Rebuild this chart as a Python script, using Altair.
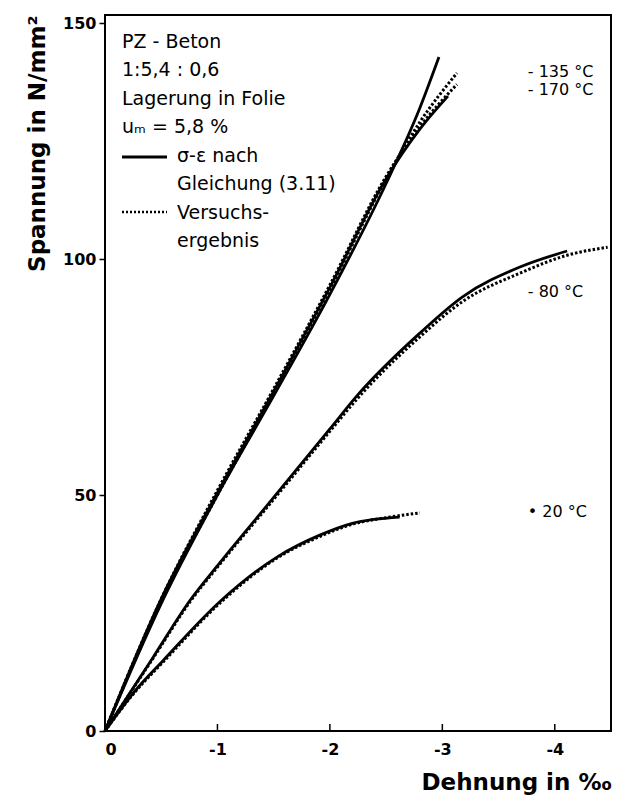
import altair as alt
import pandas as pd

# ---- data (strain in per mille, stress in N/mm^2) ----
s135_x = [0, -0.5, -1.0, -1.5, -2.0, -2.5, -2.8, -2.97]
s135_y = [0, 27.0, 50.0, 71.0, 92.5, 116.0, 132.0, 142.8]
d135_x = [0, -0.5, -1.0, -1.5, -2.0, -2.5, -2.8, -3.13]
d135_y = [0, 27.5, 50.0, 71.5, 93.5, 117.0, 129.0, 139.4]
s170_x = [0, -0.5, -1.0, -1.5, -2.0, -2.5, -2.8, -3.05]
s170_y = [0, 28.0, 50.5, 72.0, 94.0, 117.0, 127.5, 134.5]
d170_x = [0, -0.5, -1.0, -1.5, -2.0, -2.5, -2.8, -3.13]
d170_y = [0, 28.0, 51.0, 72.5, 94.5, 117.5, 128.0, 137.0]
s80_x = [0, -0.43, -0.76, -1.02, -1.48, -2.0, -2.24, -2.8, -3.18, -3.69, -4.11]
s80_y = [0, 15.7, 27.8, 35.6, 48.9, 64.0, 71.0, 84.3, 92.0, 98.3, 101.7]
d80_x = [0, -0.43, -0.76, -1.02, -1.48, -2.0, -2.24, -2.8, -3.18, -3.69, -4.11, -4.47]
d80_y = [0, 15.5, 27.5, 35.3, 48.5, 63.5, 70.3, 83.5, 91.0, 97.0, 100.8, 102.5]
s20_x = [0, -0.25, -0.52, -1.04, -1.54, -1.91, -2.2, -2.62]
s20_y = [0, 8.0, 15.0, 27.8, 37.0, 41.5, 44.0, 45.3]
d20_x = [0, -0.25, -0.52, -1.04, -1.54, -1.91, -2.2, -2.5, -2.8]
d20_y = [0, 7.8, 14.7, 27.5, 36.8, 41.2, 43.8, 45.2, 46.2]

temp_labels = ["- 135 °C", "- 170 °C", "- 80 °C", "• 20 °C"]
temp_label_y = [139.6, 135.8, 93.0, 46.4]
temp_label_x = -3.76

x_ticks = [0, -1, -2, -3, -4]
y_ticks = [0, 50, 100, 150]

info_lines = ["PZ - Beton", "1:5,4 : 0,6", "Lagerung in Folie", "uₘ = 5,8 %"]
legend_lines = ["σ-ε nach", "Gleichung (3.11)", "Versuchs-", "ergebnis"]

FONT = "DejaVu Sans"

def series(xs, ys, name):
    return pd.DataFrame({"x": xs, "y": ys, "s": name})

solid = pd.concat([series(s135_x, s135_y, "135"), series(s170_x, s170_y, "170"),
                   series(s80_x, s80_y, "80"), series(s20_x, s20_y, "20")])
dotted = pd.concat([series(d135_x, d135_y, "135"), series(d170_x, d170_y, "170"),
                    series(d80_x, d80_y, "80"), series(d20_x, d20_y, "20")])

xscale = alt.Scale(domain=[0, -4.5], nice=False, zero=False)
yscale = alt.Scale(domain=[0, 151.7], nice=False)

xenc = alt.X("x:Q", scale=xscale, axis=alt.Axis(
    values=x_ticks, title="Dehnung in ‰", ticks=False, domain=False, grid=False,
    labelExpr="datum.value == 0 ? '0' : '-' + (-datum.value)",
    labelFont=FONT, labelFontSize=16, labelFontWeight="bold", labelColor="black", labelPadding=10,
    titleFont=FONT, titleFontSize=23, titleFontWeight="bold", titleColor="black",
    titleAnchor="end", titleAlign="right", titlePadding=14))
yenc = alt.Y("y:Q", scale=yscale, axis=alt.Axis(
    values=y_ticks, title="Spannung in N/mm²", tickSize=6, tickColor="black", tickWidth=1.5,
    domain=False, grid=False,
    labelFont=FONT, labelFontSize=16, labelFontWeight="bold", labelColor="black", labelPadding=3,
    titleFont=FONT, titleFontSize=23, titleFontWeight="bold", titleColor="black",
    titleAnchor="end", titleAlign="right", titleAngle=-90, titleX=-68, titleBaseline="middle"))

solid_lines = alt.Chart(solid).mark_line(color="black", strokeWidth=2.8, interpolate="monotone").encode(
    x=xenc, y=yenc, detail="s:N")
dotted_lines = alt.Chart(dotted).mark_line(color="black", strokeWidth=3, strokeDash=[2.5, 2],
                                             interpolate="monotone").encode(
    x="x:Q", y="y:Q", detail="s:N")

lab_df = pd.DataFrame({"t": temp_labels, "y": temp_label_y, "x": temp_label_x})
labels = alt.Chart(lab_df).mark_text(align="left", baseline="middle", font=FONT, fontSize=16,
                                     color="black").encode(x="x:Q", y="y:Q", text="t:N")

tick_df = pd.DataFrame({"x": x_ticks[1:]})
xticks = alt.Chart(tick_df).mark_rule(color="black", strokeWidth=1.5).encode(
    x="x:Q", y=alt.value(716), y2=alt.value(709))

info = alt.Chart(pd.DataFrame({"a": [0]})).mark_text(
    align="left", baseline="middle", font=FONT, fontSize=19, lineHeight=28.4, color="black"
).encode(x=alt.value(17), y=alt.value(27), text=alt.value(info_lines))
leg = alt.Chart(pd.DataFrame({"a": [0]})).mark_text(
    align="left", baseline="middle", font=FONT, fontSize=19, lineHeight=28.4, color="black"
).encode(x=alt.value(72), y=alt.value(141), text=alt.value(legend_lines))
leg_solid = alt.Chart(pd.DataFrame({"a": [0]})).mark_rule(color="black", strokeWidth=2.8).encode(
    x=alt.value(17), x2=alt.value(62), y=alt.value(142))
leg_dot = alt.Chart(pd.DataFrame({"a": [0]})).mark_rule(color="black", strokeWidth=2.5,
                                                         strokeDash=[2, 2]).encode(
    x=alt.value(17), x2=alt.value(62), y=alt.value(197))

chart = alt.layer(solid_lines, dotted_lines, labels, xticks, info, leg, leg_solid, leg_dot).properties(
    width=506, height=716,
    autosize=alt.AutoSizeParams(type="none"),
    padding={"left": 105, "top": 15, "right": 7, "bottom": 74},
    background="white",
).configure_view(stroke="black", strokeWidth=2)

chart.save("out.html", embed_options={"renderer": "svg", "actions": False})
